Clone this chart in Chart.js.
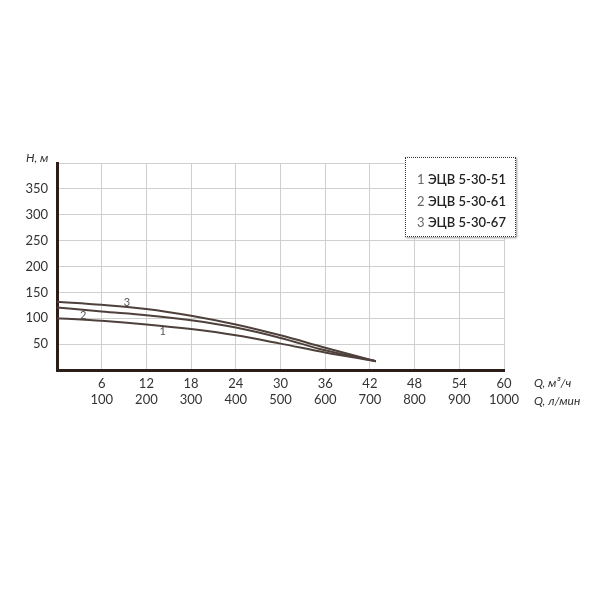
<!DOCTYPE html>
<html>
<head>
<meta charset="utf-8">
<script src="https://cdn.jsdelivr.net/npm/chart.js@4.4.0/dist/chart.umd.min.js"></script>
<style>
  html, body { margin: 0; padding: 0; background: #fff; }
  #wrap { position: relative; width: 600px; height: 600px; }
  #legend {
    position: absolute; left: 405px; top: 157px; width: 111px; height: 80px;
    border: 1px dotted #333; box-shadow: 1px 1px 2px #999;
    font-family: Lato, sans-serif; font-size: 13px; color: #222; background: #fff;
    box-sizing: border-box; padding: 11px 0 0 11px; line-height: 21.5px;
  }
  #legend .n { color: #666; font-weight: normal; }
  #legend b { font-weight: 600; }
</style>
</head>
<body>
<div id="wrap">
  <canvas id="chart" width="600" height="600"></canvas>
  <div id="legend"></div>
</div>
<script>
const ctx = document.getElementById("chart");

// flow Q, m3/h and head H, m for each pump
const flow = [0, 6, 12, 18, 24, 30, 36, 42.8];
const head1 = [100, 95, 88, 79, 67, 51, 34, 17];
const head2 = [121, 113, 106, 96, 82, 62, 38, 17];
const head3 = [132, 126, 118, 105, 88, 67, 43, 17];

const pumpNames = ["ЭЦВ 5-30-51", "ЭЦВ 5-30-61", "ЭЦВ 5-30-67"];
const qTicks = [6, 12, 18, 24, 30, 36, 42, 48, 54, 60];
const lminTicks = [100, 200, 300, 400, 500, 600, 700, 800, 900, 1000];

// curve number labels: [Q, H]
const curveLabels = [
  { text: "1", q: 14.2, h: 75 },
  { text: "2", q: 3.5, h: 106 },
  { text: "3", q: 9.4, h: 131 },
];

document.getElementById("legend").innerHTML = pumpNames
  .map((n, i) => `<span class="n">${i + 1}</span> <b>${n}</b>`)
  .join("<br>");

const toPoints = (heads) => heads.map((h, i) => ({ x: flow[i], y: h }));

const curveStyle = {
  borderColor: "#4e403b",
  borderWidth: 2,
  pointRadius: 0,
  cubicInterpolationMode: "monotone",
  fill: false,
};

const extraText = {
  id: "extraText",
  afterDraw(chart) {
    const c = chart.ctx;
    const xs = chart.scales.x;
    const ys = chart.scales.y;
    c.save();
    c.fillStyle = "#555";
    c.font = "11px Lato, sans-serif";
    c.textAlign = "center";
    c.textBaseline = "middle";
    curveLabels.forEach((l) => {
      c.fillText(l.text, xs.getPixelForValue(l.q), ys.getPixelForValue(l.h));
    });
    c.fillStyle = "#333";
    c.font = "italic 12px Lato, sans-serif";
    c.textAlign = "left";
    c.fillText("Q, м³/ч", chart.chartArea.right + 30, 383);
    c.fillText("Q, л/мин", chart.chartArea.right + 30, 401);
    c.fillText("H, м", 26, 158);
    c.restore();
  },
};

new Chart(ctx, {
  type: "line",
  data: {
    datasets: [
      { label: pumpNames[0], data: toPoints(head1), ...curveStyle },
      { label: pumpNames[1], data: toPoints(head2), ...curveStyle },
      { label: pumpNames[2], data: toPoints(head3), ...curveStyle },
    ],
  },
  options: {
    responsive: false,
    animation: false,
    layout: { padding: { left: 0, right: 96, top: 163, bottom: 180 } },
    plugins: { legend: { display: false }, tooltip: { enabled: false } },
    scales: {
      x: {
        type: "linear",
        min: 0,
        max: 60,
        afterFit: (s) => { s.height = 50; },
        afterBuildTicks: (s) => {
          s.ticks = [0].concat(qTicks).map((v) => ({ value: v }));
        },
        grid: { color: "#cfcfcf", lineWidth: 1, drawTicks: false },
        border: { color: "#2b1d18", width: 3 },
        ticks: {
          padding: 6,
          maxRotation: 0,
          color: "#333",
          font: { family: "Lato", size: 13 },
          callback: (v) => {
            const i = qTicks.indexOf(v);
            return i < 0 ? "" : [String(qTicks[i]), String(lminTicks[i])];
          },
        },
      },
      y: {
        min: 0,
        max: 400,
        afterFit: (s) => { s.width = 57; },
        grid: { color: "#cfcfcf", lineWidth: 1, drawTicks: false },
        border: { color: "#2b1d18", width: 3 },
        ticks: {
          stepSize: 50,
          padding: 9,
          color: "#333",
          font: { family: "Lato", size: 13 },
          callback: (v) => (v === 0 || v === 400 ? "" : v),
        },
      },
    },
  },
  plugins: [extraText],
});
</script>
</body>
</html>
